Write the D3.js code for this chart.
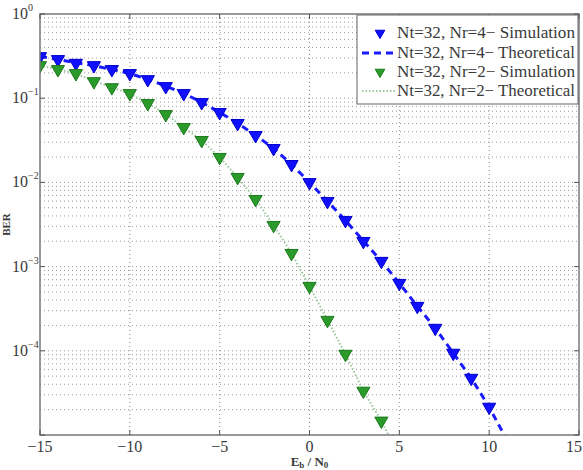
<!DOCTYPE html>
<html><head><meta charset="utf-8">
<script src="https://cdn.jsdelivr.net/npm/d3@7/dist/d3.min.js"></script>
<style>body{margin:0;background:#fff;}svg{display:block;} text{font-family:"Liberation Serif","DejaVu Serif","Noto Serif",Times,serif;}</style>
</head><body>
<script>
const snr = [-15,-14,-13,-12,-11,-10,-9,-8,-7,-6,-5,-4,-3,-2,-1,0,1,2,3,4,5,6,7,8,9,10];
const nr4Sim = [0.313,0.289,0.261,0.245,0.220,0.197,0.167,0.138,0.114,0.0891,0.0679,0.0503,0.0362,0.0254,0.0164,0.0100,0.00597,0.00355,0.00200,0.00116,0.000635,0.000339,0.000186,9.4e-5,4.74e-5,2.15e-5];
const snrTh4 = [-15,-14,-13,-12,-11,-10,-9,-8,-7,-6,-5,-4,-3,-2,-1,0,1,2,3,4,5,6,7,8,9,10,11];
const nr4Th = [0.313,0.289,0.264,0.243,0.220,0.196,0.168,0.139,0.114,0.0895,0.0679,0.0505,0.0362,0.0254,0.0164,0.0100,0.00597,0.00355,0.00202,0.00116,0.000635,0.000339,0.000186,9.4e-5,4.74e-5,2.15e-5,8.6e-6];
const snr2 = [-15,-14,-13,-12,-11,-10,-9,-8,-7,-6,-5,-4,-3,-2,-1,0,1,2,3,4];
const nr2Sim = [0.245,0.220,0.197,0.158,0.134,0.114,0.0868,0.0642,0.0451,0.0316,0.0199,0.0115,0.00630,0.00310,0.00144,0.000585,0.000231,9.14e-5,3.33e-5,1.47e-5];
const snrTh2 = [-15,-14,-13,-12,-11,-10,-9,-8,-7,-6,-5,-4,-3,-2,-1,0,1,2,3,4,5];
const nr2Th = [0.245,0.220,0.196,0.160,0.134,0.113,0.0870,0.0642,0.0451,0.0316,0.0199,0.0115,0.00630,0.00310,0.00144,0.000585,0.000231,9.14e-5,3.33e-5,1.47e-5,5.5e-6];
const xTicks = [-15,-10,-5,0,5,10,15];
const yExps = [0,-1,-2,-3,-4];
const legendLabels = ["Nt=32, Nr=4\u2212 Simulation","Nt=32, Nr=4\u2212 Theoretical","Nt=32, Nr=2\u2212 Simulation","Nt=32, Nr=2\u2212 Theoretical"];

const W=583,H=470;
const m={l:40,r:4,t:14,b:35};
const svg=d3.select("body").append("svg").attr("width",W).attr("height",H);
const x=d3.scaleLinear().domain([-15,15]).range([m.l,W-m.r]);
const y=d3.scaleLog().domain([1e-5,1]).range([H-m.b,m.t]);
const txt="#3a3a3a";

svg.append("clipPath").attr("id","clip").append("rect")
  .attr("x",m.l).attr("y",m.t).attr("width",W-m.r-m.l).attr("height",H-m.b-m.t);

// grid
const grid=svg.append("g");
const minorY=[];
for(let e=-5;e<0;e++){for(let k=1;k<10;k++){minorY.push(k*Math.pow(10,e));}}
grid.selectAll("line.hy").data(minorY).join("line")
  .attr("x1",m.l).attr("x2",W-m.r).attr("y1",d=>y(d)).attr("y2",d=>y(d))
  .attr("stroke","#9a9a9a").attr("stroke-width",1).attr("stroke-dasharray","1,3");
grid.selectAll("line.vx").data(xTicks.slice(1,-1)).join("line")
  .attr("x1",d=>x(d)).attr("x2",d=>x(d)).attr("y1",m.t).attr("y2",H-m.b)
  .attr("stroke","#8a8a8a").attr("stroke-width",1).attr("stroke-dasharray","1,3");

// lines
const plot=svg.append("g").attr("clip-path","url(#clip)");
const line=d3.line().x(d=>x(d[0])).y(d=>y(d[1]));
plot.append("path").datum(snrTh2.map((s,i)=>[s,nr2Th[i]])).attr("d",line)
  .attr("fill","none").attr("stroke","#9cc79c").attr("stroke-width",2).attr("stroke-dasharray","1.5,2");
plot.append("path").datum(snrTh4.map((s,i)=>[s,nr4Th[i]])).attr("d",line)
  .attr("fill","none").attr("stroke","#1a1aff").attr("stroke-width",3).attr("stroke-dasharray","7,5");

const tri=d3.symbol().type(d3.symbolTriangle).size(75);
function markers(xs,vs,col,edge){
  plot.append("g").selectAll("path").data(xs.map((s,i)=>[s,vs[i]])).join("path")
    .attr("d",tri).attr("transform",d=>`translate(${x(d[0])},${y(d[1])}) rotate(180)`)
    .attr("fill",col).attr("stroke",edge).attr("stroke-width",1);
}
markers(snr,nr4Sim,"#1010ff","#0000cc");
markers(snr2,nr2Sim,"#2a9a2a","#1d7a1d");

// axes box
svg.append("rect").attr("x",m.l).attr("y",m.t).attr("width",W-m.r-m.l).attr("height",H-m.b-m.t)
  .attr("fill","none").attr("stroke","#7a7a7a").attr("stroke-width",1.5);

// ticks
const tk=svg.append("g");
yExps.concat([-5]).forEach(e=>{
  const yy=y(Math.pow(10,e));
  tk.append("line").attr("x1",m.l).attr("x2",m.l+5).attr("y1",yy).attr("y2",yy).attr("stroke","#555");
  tk.append("line").attr("x1",W-m.r).attr("x2",W-m.r-5).attr("y1",yy).attr("y2",yy).attr("stroke","#555");
});
xTicks.forEach(t=>{
  tk.append("line").attr("x1",x(t)).attr("x2",x(t)).attr("y1",H-m.b).attr("y2",H-m.b-5).attr("stroke","#555");
  tk.append("line").attr("x1",x(t)).attr("x2",x(t)).attr("y1",m.t).attr("y2",m.t+5).attr("stroke","#555");
});

// x tick labels
svg.append("g").selectAll("text").data(xTicks).join("text")
  .attr("x",d=>Math.min(x(d),W-9)).attr("y",H-m.b+17).attr("text-anchor","middle")
  .attr("font-size",16).attr("fill",txt)
  .text(d=>d<0?"\u2212"+Math.abs(d):d);

// y tick labels
const yl=svg.append("g");
yExps.forEach(e=>{
  const t=yl.append("text").attr("x",12).attr("y",y(Math.pow(10,e))+5)
    .attr("font-size",16).attr("fill",txt);
  t.append("tspan").text("10");
  t.append("tspan").attr("dy",-8).attr("font-size",10).text(e===0?"0":"\u2212"+Math.abs(e));
});

// axis labels
svg.append("text").attr("transform",`translate(10,${(m.t+H-m.b)/2}) rotate(-90)`)
  .attr("text-anchor","middle").attr("font-size",11).attr("font-weight","bold")
  .attr("fill",txt).text("BER");
const xl=svg.append("text").attr("x",x(0)).attr("y",H-4).attr("text-anchor","middle")
  .attr("font-size",13).attr("font-weight","bold").attr("fill",txt);
xl.append("tspan").text("E");
xl.append("tspan").attr("dy",2).attr("font-size",9).text("b");
xl.append("tspan").attr("dy",-2).text(" / N");
xl.append("tspan").attr("dy",2).attr("font-size",9).text("0");

// legend
const lg=svg.append("g");
lg.append("rect").attr("x",357).attr("y",m.t+1).attr("width",W-m.r-357-1).attr("height",89)
  .attr("fill","#fff").attr("stroke","#666").attr("stroke-width",1);
const rows=[33,53,72,91];
legendLabels.forEach((lab,i)=>{
  lg.append("text").attr("x",397).attr("y",rows[i]+5).attr("font-size",16)
    .attr("textLength",178).attr("lengthAdjust","spacingAndGlyphs")
    .attr("fill",txt).text(lab);
});
const triS=d3.symbol().type(d3.symbolTriangle).size(40);
lg.append("path").attr("d",triS).attr("transform",`translate(380,${rows[0]}) rotate(180)`)
  .attr("fill","#1010ff").attr("stroke","#0000cc");
lg.append("path").attr("d",triS).attr("transform",`translate(380,${rows[2]}) rotate(180)`)
  .attr("fill","#2a9a2a").attr("stroke","#1d7a1d");
lg.append("line").attr("x1",362).attr("x2",395).attr("y1",rows[1]).attr("y2",rows[1])
  .attr("stroke","#1a1aff").attr("stroke-width",3).attr("stroke-dasharray","7,5");
lg.append("line").attr("x1",362).attr("x2",395).attr("y1",rows[3]).attr("y2",rows[3])
  .attr("stroke","#9cc79c").attr("stroke-width",2).attr("stroke-dasharray","1.5,2");
</script>
</body></html>
